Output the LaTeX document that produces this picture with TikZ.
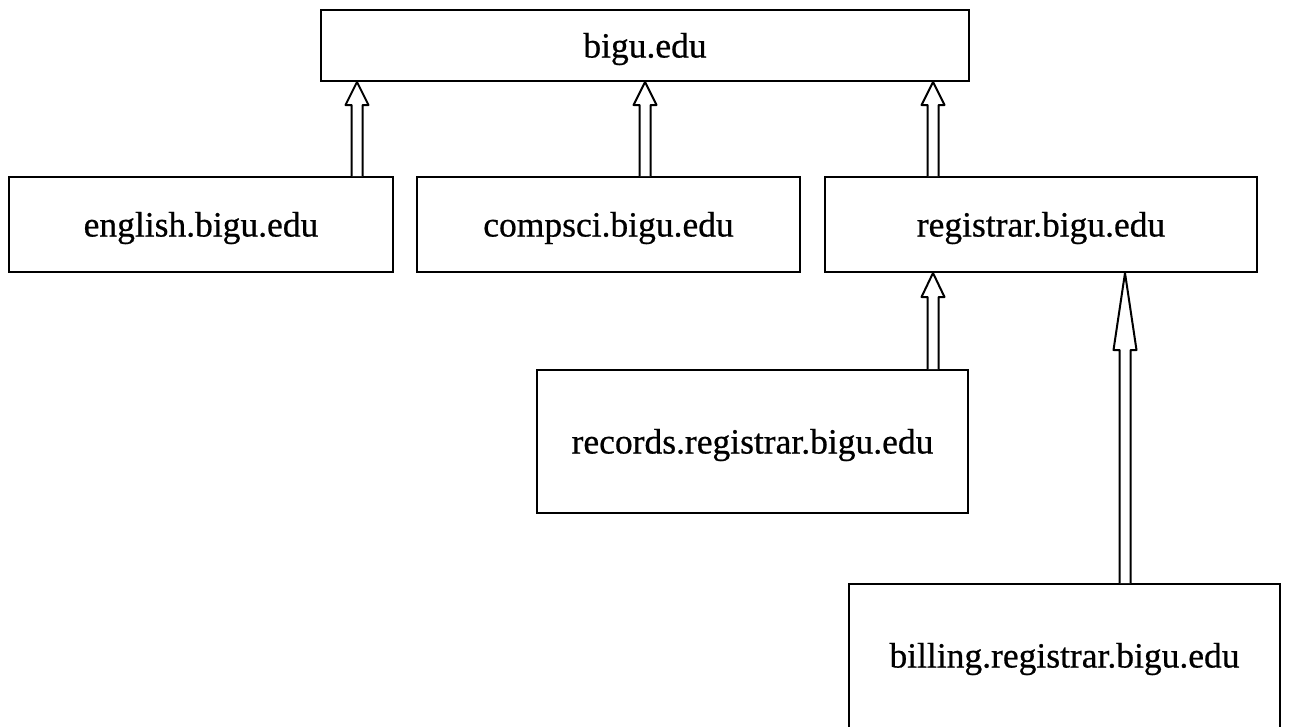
\documentclass[tikz,border=0pt]{standalone}
\usepackage{fontspec}
\setmainfont{Liberation Serif}[FakeBold=0.6]
\usetikzlibrary{calc}

\tikzset{
  dnsbox/.style={draw, line width=2pt, fill=white, inner sep=0pt,
    text height=24pt, text depth=0pt,
    font=\fontsize{35.5}{42}\selectfont},
  conn/.style={draw, line width=2pt, line join=round, fill=white}
}

% Hollow double-shafted arrow from the top of one box to the bottom of another.
% #1: x position, #2: child node, #3: parent node, #4: head length
\newcommand{\hollowarrow}[4]{%
  \coordinate (hx) at (#1,0);
  \coordinate (tl) at (hx |- #2.north);
  \coordinate (tp) at (hx |- #3.south);
  \draw[conn] ($(tl)+(-5.5,0)$) -- ($(tp)+(-5.5,#4)$) -- ($(tp)+(-11.5,#4)$)
    -- (tp) -- ($(tp)+(11.5,#4)$) -- ($(tp)+(5.5,#4)$) -- ($(tl)+(5.5,0)$);
}

\begin{document}
\begin{tikzpicture}[x=1pt, y=-1pt]
  \useasboundingbox (0,0) rectangle (1290,726);

  \node[dnsbox, minimum width=648pt, minimum height=71pt]  (bigu)      at (645,45.5)     {bigu.edu};
  \node[dnsbox, minimum width=384pt, minimum height=95pt]  (english)   at (201,224.5)    {english.bigu.edu};
  \node[dnsbox, minimum width=383pt, minimum height=95pt]  (compsci)   at (608.5,224.5)  {compsci.bigu.edu};
  \node[dnsbox, minimum width=432pt, minimum height=95pt]  (registrar) at (1041,224.5)   {registrar.bigu.edu};
  \node[dnsbox, minimum width=431pt, minimum height=143pt] (records)   at (752.5,441.5)  {records.registrar.bigu.edu};
  % this box runs past the lower edge of the page
  \node[dnsbox, text height=20pt, minimum width=431pt, minimum height=147pt] (billing) at (1064.5,657.5) {billing.registrar.bigu.edu};

  \hollowarrow{357}{english}{bigu}{23}
  \hollowarrow{645}{compsci}{bigu}{23}
  \hollowarrow{933}{registrar}{bigu}{23}
  \hollowarrow{933}{records}{registrar}{24}
  \hollowarrow{1125}{billing}{registrar}{77}
\end{tikzpicture}
\end{document}
